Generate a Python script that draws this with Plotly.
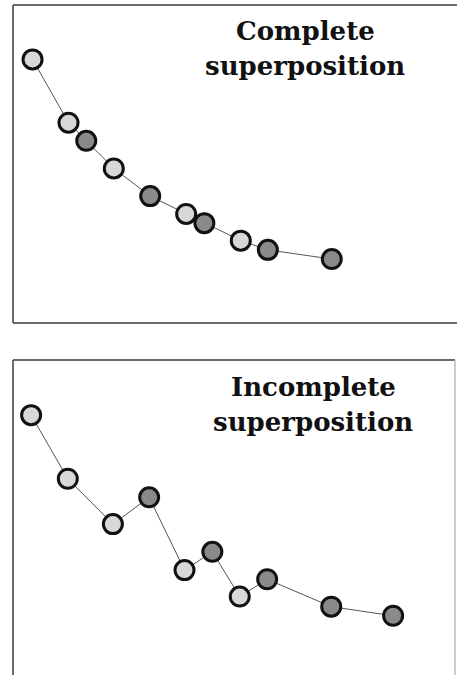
import plotly.graph_objects as go

# ---- data (arbitrary units, 0-100 scale on both axes) ----
top_x = [4.4, 12.5, 16.5, 22.7, 30.9, 39.0, 43.1, 51.3, 57.4, 71.8]
top_y = [82.9, 63.0, 57.3, 48.6, 39.9, 34.3, 31.4, 25.9, 23.0, 20.1]
top_group = ["A", "A", "B", "A", "B", "A", "B", "A", "B", "B"]

bot_x = [4.1, 12.4, 22.6, 30.8, 38.8, 45.1, 51.3, 57.5, 72.0, 86.0]
bot_y = [82.5, 62.3, 47.9, 56.4, 33.3, 39.1, 24.9, 30.4, 21.7, 18.8]
bot_group = ["A", "A", "A", "B", "A", "B", "A", "B", "B", "B"]

titles_top = ["Complete", "superposition"]
titles_bot = ["Incomplete", "superposition"]

W, H = 457, 675
fill = {"A": "#d8d8d8", "B": "#8a8a8a"}

fig = go.Figure()

def panel(xs, ys, groups, xa, ya):
    fig.add_trace(go.Scatter(
        x=xs, y=ys, mode="lines+markers", xaxis=xa, yaxis=ya,
        line=dict(color="#555555", width=1),
        marker=dict(size=19, color=[fill[g] for g in groups],
                    line=dict(color="#111111", width=3)),
        showlegend=False, hoverinfo="skip"))

panel(top_x, top_y, top_group, "x", "y")
panel(bot_x, bot_y, bot_group, "x2", "y2")

def px(v):
    return v / W

def py(v):
    return 1 - v / H

ax_common = dict(showgrid=False, zeroline=False, showticklabels=False,
                 ticks="", showline=False, range=[0, 100], fixedrange=True)

fig.update_layout(
    width=W, height=H,
    margin=dict(l=0, r=0, t=0, b=0),
    paper_bgcolor="white", plot_bgcolor="white",
    xaxis=dict(domain=[px(13), px(457)], **ax_common),
    yaxis=dict(domain=[py(323), py(5)], **ax_common),
    xaxis2=dict(domain=[px(13), px(455)], **ax_common),
    yaxis2=dict(domain=[py(675), py(360)], **ax_common),
)

# panel frames
bc = "#3a3a3a"
frames = [
    (13, 5, 457, 5, bc), (13, 5, 13, 323, bc), (13, 323, 457, 323, bc),
    (13, 360, 455, 360, bc), (13, 360, 13, 675, bc), (455, 360, 455, 675, "#bbbbbb"),
]
for x0, y0, x1, y1, c in frames:
    fig.add_shape(type="line", xref="paper", yref="paper",
                  x0=px(x0), y0=py(y0), x1=px(x1), y1=py(y1),
                  line=dict(color=c, width=1.5))

font = dict(family="DejaVu Serif", size=26, color="#111111")
for txt, (cx, cy) in zip(titles_top, [(305, 31), (305, 66)]):
    fig.add_annotation(text="<b>%s</b>" % txt, xref="paper", yref="paper",
                       x=px(cx), y=py(cy), xanchor="center", yanchor="middle",
                       showarrow=False, font=font)
for txt, (cx, cy) in zip(titles_bot, [(313, 387), (313, 422)]):
    fig.add_annotation(text="<b>%s</b>" % txt, xref="paper", yref="paper",
                       x=px(cx), y=py(cy), xanchor="center", yanchor="middle",
                       showarrow=False, font=font)

fig.write_html("out.html",
               config={"displayModeBar": False},
               post_script="document.body.style.margin='0';"
                           "document.body.style.overflow='hidden';")
